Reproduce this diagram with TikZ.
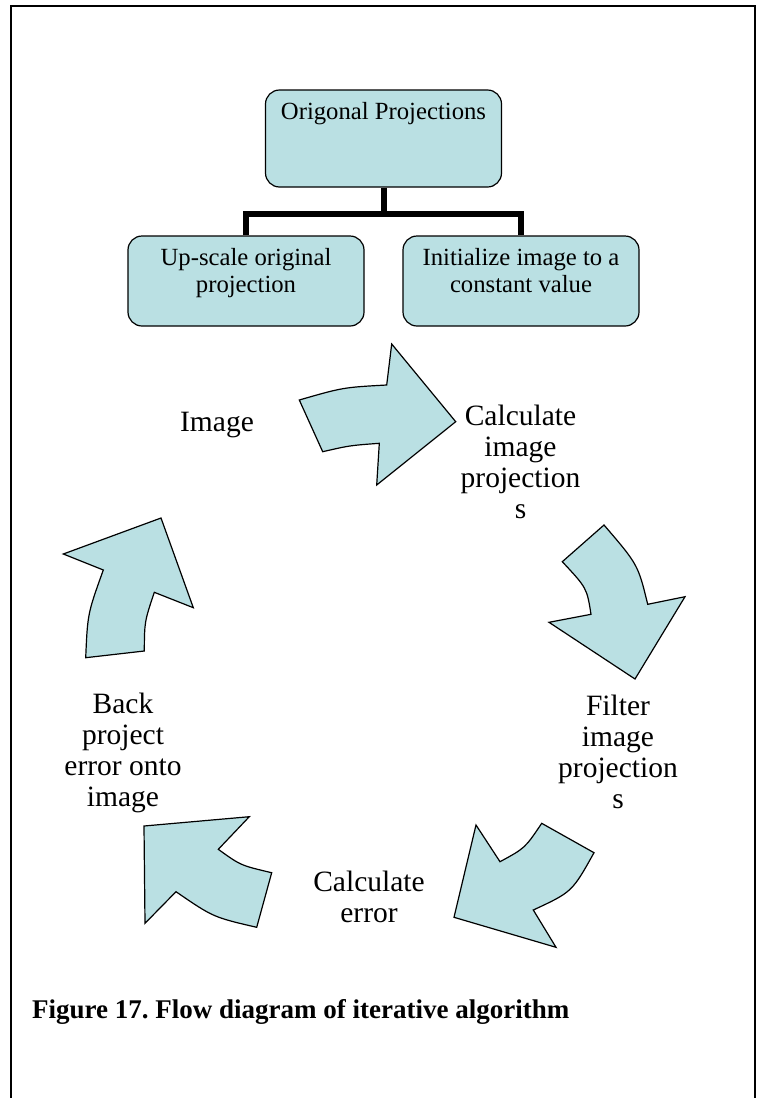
\documentclass[tikz,border=0pt]{standalone}
\usepackage{fontspec}
\setmainfont{Liberation Serif}
\usepackage{xcolor}
\definecolor{boxcyan}{RGB}{186,224,227}
\frenchspacing

\newcommand{\boxtext}[2]{\parbox[c][#1][t]{236pt}{\centering\fontsize{24.7}{27.3}\selectfont\rule{0pt}{29pt}#2}}

\begin{document}
\begin{tikzpicture}[x=1pt,y=-1pt,
    stepbox/.style={draw, line width=1.2pt, fill=boxcyan, rounded corners=14pt, inner sep=0pt, minimum width=236pt},
    bigarrow/.style={draw, line width=1.2pt, fill=boxcyan, line join=miter},
    cyclelbl/.style={align=center, inner sep=0pt, anchor=north, font=\fontsize{29.5}{31}\selectfont},
    treeline/.style={line width=6pt, line join=miter}]
    % Fix the page size
    \useasboundingbox (0,0) rectangle (762,1098);

    % Draw the outer frame (open at the bottom)
    \draw[line width=2pt] (11,1098) -- (11,6) -- (755,6) -- (755,1098);

    % Draw the three boxes
    \node[stepbox] (orig) at (383.5,138.5) {\boxtext{97pt}{Origonal Projections}};
    \node[stepbox] (up) at (246,281) {\boxtext{90pt}{Up-scale original\\projection}};
    \node[stepbox] (init) at (521,281) {\boxtext{90pt}{Initialize image to a\\constant value}};

    % Draw the tree lines
    \coordinate (bar) at (383.5,214);
    \draw[treeline] (orig.south) -- (bar);
    \draw[treeline] (up.north) -- (up.north |- bar) -- (init.north |- bar) -- (init.north);

    % Draw the cycle labels
    \node[cyclelbl, anchor=base] (image) at (217,431) {Image};
    \node[cyclelbl] (calc) at (520.5,404.9) {Calculate\\image\\projection\\s};
    \node[cyclelbl] (filt) at (618,694.9) {Filter\\image\\projection\\s};
    \node[cyclelbl] (err) at (369,870.9) {Calculate\\error};
    \node[cyclelbl] (back) at (123,692.6) {Back\\project\\error onto\\image};

    % Draw the curved arrows of the cycle
    \draw[bigarrow] (299.3,400) .. controls (343,387.4) .. (386.7,385) -- (391.7,344) -- (455.7,421.7)
        -- (376.7,485) -- (379.3,443.3) .. controls (349.7,445.5) .. (322.7,451.7) -- cycle;
    \draw[bigarrow] (562.3,561.7) .. controls (586.85,588) .. (591,614.3) -- (549,622.3) -- (635,679)
        -- (685,596.7) -- (647.7,604.3) .. controls (638.05,564.7) .. (604,525) -- cycle;
    \draw[bigarrow] (541.7,823.3) .. controls (525.05,848.1) .. (500,861.7) -- (476,825) -- (454,917.3)
        -- (556,947.3) -- (533.3,910) .. controls (572.1,891.95) .. (594,852.7) -- cycle;
    \draw[bigarrow] (271.7,872.7) .. controls (240.6,865.4) .. (218.3,849.3) -- (249.3,816.7) -- (144,826)
        -- (145,923.3) -- (176,891.7) .. controls (213.2,917.2) .. (256.7,927.3) -- cycle;
    \draw[bigarrow] (144.3,651) .. controls (144.5,621.7) .. (154.3,592.3) -- (193.3,607.7) -- (161,518)
        -- (63.3,554) -- (103.3,570) .. controls (87.6,613.7) .. (85.7,657.7) -- cycle;

    % Draw the caption
    \node[anchor=base west, inner sep=0pt, font=\bfseries\fontsize{27}{32}\selectfont] (caption) at (32,1018)
        {Figure 17. Flow diagram of iterative algorithm};
\end{tikzpicture}
\end{document}
